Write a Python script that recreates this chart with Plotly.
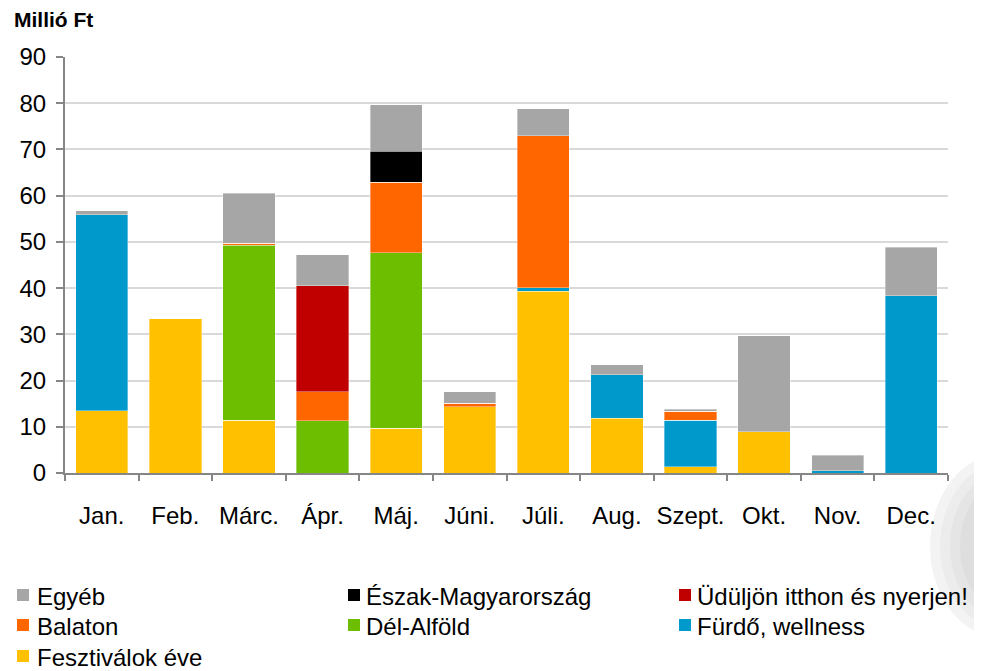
import plotly.graph_objects as go

months = ["Jan.", "Feb.", "Márc.", "Ápr.", "Máj.", "Júni.", "Júli.", "Aug.", "Szept.", "Okt.", "Nov.", "Dec."]

fesztivalok = [13.5, 33.5, 11.4, 0, 9.7, 14.3, 39.3, 11.8, 1.4, 8.9, 0, 0]
furdo = [42.4, 0, 0, 0, 0, 0, 0.8, 9.5, 10.0, 0, 0.5, 38.4]
del_alfold = [0, 0, 37.9, 11.3, 37.9, 0, 0, 0, 0, 0, 0, 0]
balaton = [0, 0, 0.4, 6.3, 15.3, 0.8, 32.9, 0, 2.0, 0, 0, 0]
uduljon = [0, 0, 0, 22.9, 0, 0, 0, 0, 0, 0, 0, 0]
eszak = [0, 0, 0, 0, 6.7, 0, 0, 0, 0, 0, 0, 0]
egyeb = [0.8, 0, 10.8, 6.7, 10.1, 2.5, 5.8, 2.1, 0.4, 20.8, 3.3, 10.4]

yticks = [0, 10, 20, 30, 40, 50, 60, 70, 80, 90]

# bottom-to-top stacking order
series = [
    ("Fesztiválok éve", fesztivalok, "#FFC000"),
    ("Fürdő, wellness", furdo, "#0099CC"),
    ("Dél-Alföld", del_alfold, "#6DBE00"),
    ("Balaton", balaton, "#FF6600"),
    ("Üdüljön itthon és nyerjen!", uduljon, "#C00000"),
    ("Észak-Magyarország", eszak, "#000000"),
    ("Egyéb", egyeb, "#A6A6A6"),
]

# page has an 8px body margin, so the figure is 8px smaller than the window
OFF = 8
W, H = 982 - OFF, 671 - OFF
ML, MR, MT, MB = 65 - OFF, 34, 57 - OFF, 198
PW, PH = W - ML - MR, H - MT - MB

FONT = "Liberation Sans, Arial, sans-serif"


def px2paper(x, y):
    # page pixel -> paper coordinates
    return (x - OFF - ML) / PW, (H - MB - (y - OFF)) / PH


fig = go.Figure()
for name, vals, col in series:
    fig.add_trace(go.Bar(
        x=months, y=vals, name=name, showlegend=False,
        marker=dict(color=col, line=dict(color="rgba(255,255,255,0.6)", width=0.6)),
    ))

shapes = []
# decorative grey crescent in the bottom-right corner
for (rx, ry, col) in [(72, 92, "#F3F3F3"), (62, 82, "#ECECEC"), (52, 72, "#E5E5E5"), (42, 62, "#DEDEDE")]:
    cx, cy = 1002, 546
    x0, y0 = px2paper(cx - rx, cy + ry)
    x1, y1 = px2paper(cx + rx, cy - ry)
    shapes.append(dict(type="circle", xref="paper", yref="paper", x0=x0, y0=y0, x1=x1, y1=y1,
                       fillcolor=col, line=dict(width=0), layer="below"))

annotations = []
tx, ty = px2paper(12, 19)
annotations.append(dict(
    text="<b>Millió Ft</b>", xref="paper", yref="paper",
    x=tx, y=ty, xanchor="left", yanchor="middle",
    showarrow=False, font=dict(size=21, family=FONT),
))

# legend laid out in three columns, row by row (top of stack first)
col_swatch_x = [17, 348, 679]
col_text_x = [35, 364, 695]
row_swatch_y = [589, 619, 650]
row_text_y = [596, 626, 657]
for i, (name, vals, col) in enumerate(reversed(series)):
    r, c = divmod(i, 3)
    sx0, sy0 = px2paper(col_swatch_x[c], row_swatch_y[r] + 12)
    sx1, sy1 = px2paper(col_swatch_x[c] + 12, row_swatch_y[r])
    shapes.append(dict(type="rect", xref="paper", yref="paper", x0=sx0, y0=sy0, x1=sx1, y1=sy1,
                       fillcolor=col, line=dict(width=0)))
    ax, ay = px2paper(col_text_x[c], row_text_y[r])
    annotations.append(dict(
        text=name, xref="paper", yref="paper", x=ax, y=ay,
        xanchor="left", yanchor="middle", showarrow=False,
        font=dict(size=24, family=FONT, color="#000000"),
    ))

fig.update_layout(
    barmode="stack",
    bargap=0.29,
    width=W, height=H,
    paper_bgcolor="white", plot_bgcolor="rgba(0,0,0,0)",
    margin=dict(l=ML, r=MR, t=MT, b=MB, autoexpand=False),
    font=dict(family=FONT, size=24, color="#000000"),
    showlegend=False,
    xaxis=dict(
        automargin=False, tickangle=0,
        showline=True, linecolor="#868686", linewidth=2,
        ticks="outside", tickson="boundaries", ticklen=6, tickcolor="#868686", tickwidth=2,
        ticklabelstandoff=20,
        tickfont=dict(size=24),
    ),
    yaxis=dict(
        automargin=False,
        range=[0, 90], tickvals=yticks,
        showline=True, linecolor="#868686", linewidth=2,
        ticks="outside", ticklen=7, tickcolor="#868686", tickwidth=2,
        ticklabelstandoff=5,
        showgrid=True, gridcolor="#D9D9D9", gridwidth=1.5,
        zeroline=False,
        tickfont=dict(size=24),
    ),
    shapes=shapes,
    annotations=annotations,
)

fig.write_html("out.html")
